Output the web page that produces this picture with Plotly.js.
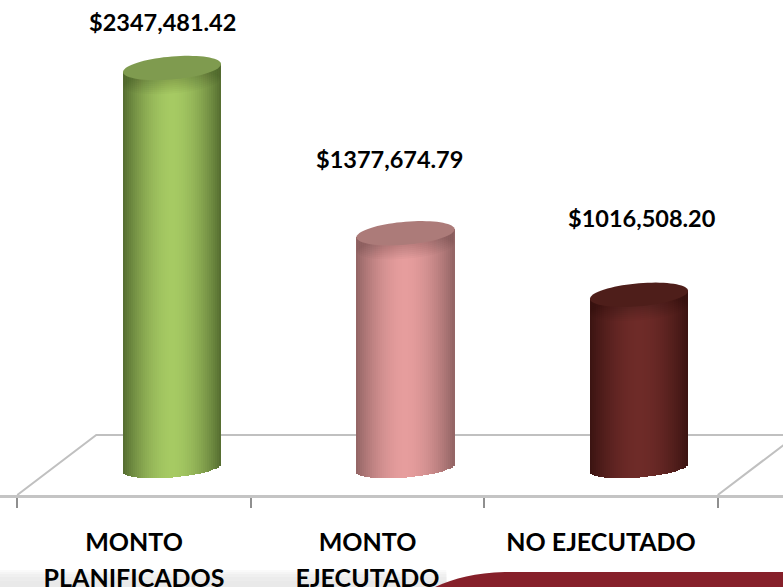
<!DOCTYPE html>
<html><head><meta charset="utf-8">
<script src="https://cdn.plot.ly/plotly-3.0.1.min.js"></script>
<style>html,body{margin:0;padding:0;background:#fff;overflow:hidden}#c{width:783px;height:587px}</style>
</head><body><div id="c"></div>
<script>
const categories = ['MONTO<br>PLANIFICADOS', 'MONTO<br>EJECUTADO', 'NO EJECUTADO'];
const values = [2347481.42, 1377674.79, 1016508.20];
const valueLabels = ['$2347,481.42', '$1377,674.79', '$1016,508.20'];
const edgeColors = [[84,108,48], [146,100,100], [58,19,17]];
const midColors = [[166,202,99], [230,157,157], [110,43,40]];
const topColors = ['#7f9b4f', '#ac7b79', '#4e1e1a'];
const labelLift = [46, 74, 77];
const labelNudge = [-10, -16, 3];

const W = 783, H = 587, BOTTOM = 495;
const PX_X = 233.5, PX_Y = values[0] / 400;
const DEPTH = 38 / PX_X, HALF = 49 / PX_X;
const FLOOR_FRONT = -27 * PX_Y, FLOOR_BACK = 33 * PX_Y;
const FONT = 'Lato, "Open Sans", sans-serif';
const STRIPS = 49;

const mix = (a, b, t) => 'rgb(' + a.map((v, i) => Math.round(v + (b[i] - v) * t)).join(',') + ')';
const traces = [];
categories.forEach((cat, c) => {
  const xs = [], ys = [], bases = [], cols = [];
  for (let i = 0; i < STRIPS; i++) {
    const u = -1 + (2 * i + 1) / STRIPS;
    const root = Math.sqrt(1 - u * u);
    const base = (4 * u - 9.5 * root) * PX_Y;
    xs.push(c + DEPTH + u * HALF);
    bases.push(base);
    ys.push(values[c] + 4 * u * PX_Y - base);
    cols.push(mix(edgeColors[c], midColors[c], 1 - Math.pow(Math.abs(u), 1.8)));
  }
  traces.push({type: 'bar', name: cat.replace('<br>', ' '), x: xs, y: ys, base: bases,
    width: 2.6 / PX_X, marker: {color: cols, line: {width: 0}}, hoverinfo: 'skip', xaxis: 'x', yaxis: 'y'});
});
traces.push({type: 'scatter', mode: 'markers', x: [0, 1, 2], y: [0, 0, 0], xaxis: 'x2', yaxis: 'y',
  marker: {opacity: 0, size: 1}, hoverinfo: 'skip', showlegend: false});

const shapes = [];
// page band behind the labels: soft grey fade on the left, red swoosh on the right
const fy = px => -(px - BOTTOM) / BOTTOM;
[[570, '#fafafa'], [572, '#f5f5f5'], [574, '#f0f0f0'], [577, '#ececec'], [581, '#e9e9e9']].forEach(([py, col]) => {
  shapes.push({type: 'rect', xref: 'paper', yref: 'paper', x0: 0, x1: 0.57, y0: fy(587), y1: fy(py),
    fillcolor: col, line: {width: 0}, layer: 'below'});
});
shapes.push({type: 'path', xref: 'paper', yref: 'paper', layer: 'below', fillcolor: '#86202a', line: {width: 0},
  path: 'M ' + 435 / W + ',' + fy(587) + ' C ' + 455 / W + ',' + fy(578) + ' ' + 475 / W + ',' + fy(573) + ' ' + 505 / W + ',' + fy(572) +
    ' L 1,' + fy(572) + ' L 1,' + fy(587) + ' Z'});
// floor
const xL = -0.5, xR = 2.5, dx = 79 / PX_X;
const floorPath = 'M ' + xL + ',' + FLOOR_FRONT + ' L ' + (xL + dx) + ',' + FLOOR_BACK + ' L ' + (xR + dx) + ',' + FLOOR_BACK + ' L ' + xR + ',' + FLOOR_FRONT;
shapes.push({type: 'path', xref: 'x', yref: 'y', layer: 'below', path: floorPath, line: {color: '#c0c0c0', width: 2}});
// cylinder tops, with a soft shade just under each
const ellipse = (c, drop) => {
  let p = '';
  for (let k = 0; k < 72; k++) {
    const t = k / 72 * 2 * Math.PI;
    const x = c + DEPTH + HALF * Math.cos(t);
    const y = values[c] + (4 * Math.cos(t) + 11.5 * Math.sin(t) - drop) * PX_Y;
    p += (k ? ' L ' : 'M ') + x + ',' + y;
  }
  return p + ' Z';
};
categories.forEach((cat, c) => {
  for (let d = 14; d > 0; d -= 2) {
    shapes.push({type: 'path', xref: 'x', yref: 'y', path: ellipse(c, d), fillcolor: 'rgba(0,0,0,0.022)', line: {width: 0}});
  }
  shapes.push({type: 'path', xref: 'x', yref: 'y', path: ellipse(c, 0), fillcolor: topColors[c], line: {width: 0}});
});

const annotations = values.map((v, c) => ({
  xref: 'x', yref: 'y', x: c + DEPTH, y: v, xshift: labelNudge[c], yshift: labelLift[c], text: '<b>' + valueLabels[c] + '</b>',
  showarrow: false, font: {family: FONT, size: 23.5, color: '#000'}, xanchor: 'center', yanchor: 'middle'
}));

const sized = categories.map(s => '<span style="font-size:25px">' + s.split('<br>').join('</span><br><span style="font-size:25px">') + '</span>');
const layout = {
  width: W, height: H, margin: {l: 0, r: 0, t: 0, b: H - BOTTOM}, showlegend: false,
  paper_bgcolor: '#fff', plot_bgcolor: 'rgba(0,0,0,0)', barmode: 'overlay', bargap: 0,
  xaxis: {type: 'linear', range: [-134 / PX_X, (W - 134) / PX_X], tickmode: 'array',
    tickvals: [-0.5, 0.5, 1.5, 2.5], ticktext: ['', '', '', ''], ticks: 'outside', ticklen: 10, tickwidth: 2, tickcolor: '#8f8f8f',
    showgrid: false, zeroline: false, showline: true, linecolor: '#c4c4c4', linewidth: 3},
  xaxis2: {type: 'linear', overlaying: 'x', side: 'bottom', anchor: 'y', range: [-134 / PX_X, (W - 134) / PX_X], tickmode: 'array',
    tickvals: [0, 1, 2], ticktext: sized, ticks: '', showgrid: false, zeroline: false, showline: false,
    ticklabelstandoff: 27, tickfont: {family: FONT, size: 28, color: '#000', weight: 700}},
  yaxis: {range: [FLOOR_FRONT, 468 * PX_Y], visible: false, showgrid: false, zeroline: false},
  shapes, annotations
};
Plotly.newPlot('c', traces, layout, {staticPlot: true, displayModeBar: false});
</script></body></html>
